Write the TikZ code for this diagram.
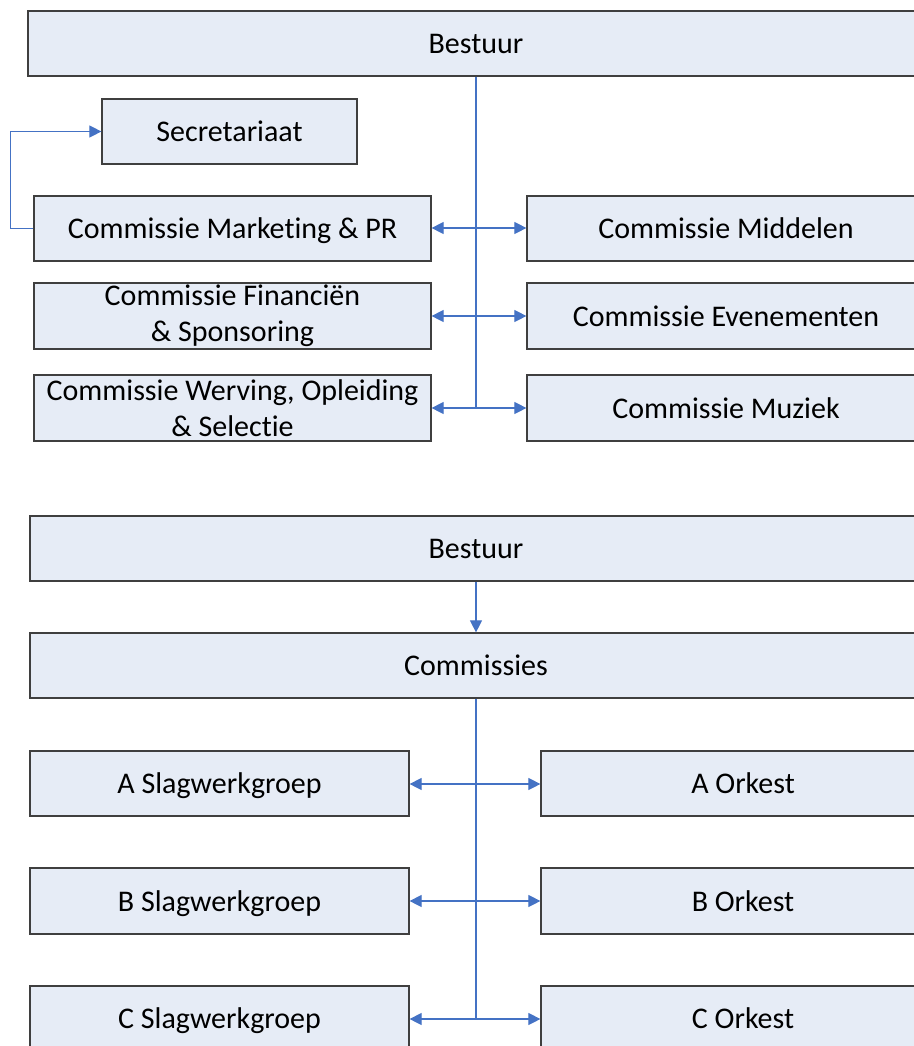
\documentclass[tikz,border=0pt]{standalone}
\usepackage{fontspec}
\setmainfont{Carlito}[Ligatures={NoCommon}]
\usetikzlibrary{arrows.meta}
\definecolor{boxfill}{HTML}{E6ECF6}
\definecolor{boxline}{HTML}{3F3F3F}
\definecolor{conn}{HTML}{4472C4}
\begin{document}
\begin{tikzpicture}[x=1pt,y=-1pt,
  orgbox/.style={draw=boxline,fill=boxfill,line width=1.2pt,inner sep=0pt,align=center,font=\fontsize{30}{36}\selectfont},
  one/.style={orgbox,text height=20pt,text depth=0pt},
  link/.style={draw=conn,line width=1.1pt},
  tip/.style={-{Triangle[length=12pt,width=12pt]}}
]
\useasboundingbox (0,0) rectangle (913,1046);
% top diagram
\node[one,minimum width=896pt,minimum height=65pt] (b1) at (476,43.5) {Bestuur};
\node[one,minimum width=255pt,minimum height=65pt] (sec) at (229.5,131.5) {Secretariaat};
\node[one,minimum width=397pt,minimum height=65pt] (mk) at (232.5,228.5) {Commissie Marketing \& PR};
\node[orgbox,minimum width=397pt,minimum height=66pt] (fin) at (232.5,316) {Commissie Financiën\\\& Sponsoring};
\node[orgbox,minimum width=397pt,minimum height=66pt] (wer) at (232.5,408) {Commissie Werving, Opleiding\\\& Selectie};
\node[one,minimum width=398pt,minimum height=65pt] (mid) at (726,228.5) {Commissie Middelen};
\node[one,minimum width=398pt,minimum height=66pt] (eve) at (726,316) {Commissie Evenementen};
\node[one,minimum width=398pt,minimum height=66pt] (muz) at (726,408) {Commissie Muziek};
\coordinate (j1) at (476,408);
\coordinate (k1) at (476,228);
\coordinate (k2) at (476,316);
\draw[link] (b1.south -| j1) -- (j1);
\draw[link,tip] (k1) -- (mk.east |- k1);
\draw[link,tip] (k1) -- (mid.west |- k1);
\draw[link,tip] (k2) -- (fin.east |- k2);
\draw[link,tip] (k2) -- (eve.west |- k2);
\draw[link,tip] (j1) -- (wer.east |- j1);
\draw[link,tip] (j1) -- (muz.west |- j1);
\draw[link,tip] (mk.west) -- ++(-23,0) |- (sec.west);
% bottom diagram
\node[one,minimum width=892pt,minimum height=65pt] (b2) at (476,548.5) {Bestuur};
\node[one,minimum width=892pt,minimum height=65pt] (com) at (476,665.5) {Commissies};
\draw[link,tip] (b2.south) -- (com.north);
\node[one,minimum width=379pt,minimum height=65pt] (as) at (219.5,783.5) {A Slagwerkgroep};
\node[one,minimum width=379pt,minimum height=66pt] (bs) at (219.5,901) {B Slagwerkgroep};
\node[one,minimum width=379pt,minimum height=65pt] (cs) at (219.5,1018.5) {C Slagwerkgroep};
\node[one,minimum width=404pt,minimum height=65pt] (ao) at (743,783.5) {A Orkest};
\node[one,minimum width=404pt,minimum height=66pt] (bo) at (743,901) {B Orkest};
\node[one,minimum width=404pt,minimum height=65pt] (co) at (743,1018.5) {C Orkest};
\coordinate (m1) at (476,784);
\coordinate (m2) at (476,901);
\coordinate (m3) at (476,1019);
\draw[link] (com.south) -- (m3);
\draw[link,tip] (m1) -- (as.east |- m1);
\draw[link,tip] (m1) -- (ao.west |- m1);
\draw[link,tip] (m2) -- (bs.east |- m2);
\draw[link,tip] (m2) -- (bo.west |- m2);
\draw[link,tip] (m3) -- (cs.east |- m3);
\draw[link,tip] (m3) -- (co.west |- m3);
\end{tikzpicture}
\end{document}
